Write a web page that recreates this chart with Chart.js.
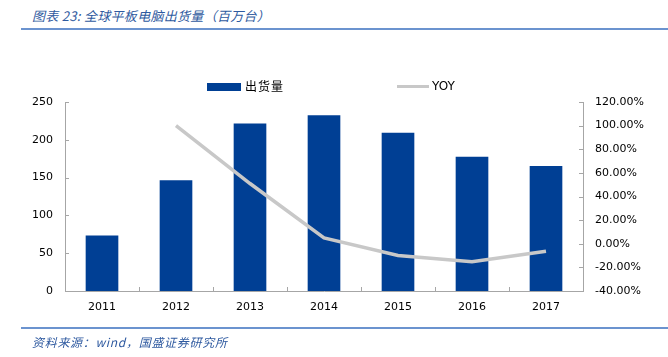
<!DOCTYPE html>
<html>
<head>
<meta charset="utf-8">
<script src="https://cdn.jsdelivr.net/npm/chart.js@4/dist/chart.umd.min.js"></script>
<style>
  html, body { margin: 0; padding: 0; background: #fff; }
  #wrap { position: relative; width: 668px; height: 357px; overflow: hidden; }
  #c { position: absolute; left: 0; top: 0; }
  .title { position: absolute; left: 32px; top: 6px; font: italic 13px "Noto Sans CJK SC", sans-serif; color: #2f5aa0; white-space: nowrap; letter-spacing: 0.3px; }
  .rule { position: absolute; left: 21px; width: 647px; height: 2px; background: #6b93cf; }
  .source { position: absolute; left: 32px; top: 333px; font: italic 12px "Noto Sans CJK SC", sans-serif; color: #2f5aa0; white-space: nowrap; letter-spacing: 0.7px; }
  .leg { position: absolute; top: 78px; font: 12px "Noto Sans CJK SC", "DejaVu Sans", sans-serif; color: #000; white-space: nowrap; line-height: 16px; }
  .box { position: absolute; }
</style>
</head>
<body>
<div id="wrap">
  <div class="title">图表 23:  全球平板电脑出货量（百万台）</div>
  <div class="rule" style="top:28px"></div>
  <canvas id="c" width="668" height="357"></canvas>
  <div class="box" style="left:207px; top:83px; width:34px; height:8px; background:#003f94;"></div>
  <div class="leg" style="left:245px; letter-spacing:1px;">出货量</div>
  <div class="box" style="left:397px; top:85px; width:32px; height:3px; background:#c8c8c8;"></div>
  <div class="leg" style="left:432px; font-family:'DejaVu Sans', sans-serif;">YOY</div>
  <div class="rule" style="top:327px"></div>
  <div class="source">资料来源：wind，国盛证券研究所</div>
</div>
<script>
const categories = ['2011', '2012', '2013', '2014', '2015', '2016', '2017'];
const shipments = [73, 146, 221, 232, 209, 177, 165];
const yoy = [null, 100, 51, 5, -10, -15.2, -6.3];
const leftTicks = [0, 50, 100, 150, 200, 250];
const rightTicks = [-40, -20, 0, 20, 40, 60, 80, 100, 120];

const axisColor = '#a6a6a6';
const tickFont = { family: 'DejaVu Sans', size: 11 };

const inwardTicks = {
  id: 'inwardTicks',
  afterDraw(chart) {
    const ctx = chart.ctx;
    const a = chart.chartArea;
    const x = chart.scales.x, yl = chart.scales.y, yr = chart.scales.y1;
    ctx.save();
    ctx.strokeStyle = axisColor;
    ctx.lineWidth = 1;
    ctx.beginPath();
    leftTicks.forEach(v => { const p = Math.round(yl.getPixelForValue(v)) + 0.5; ctx.moveTo(a.left, p); ctx.lineTo(a.left + 4, p); });
    rightTicks.forEach(v => { const p = Math.round(yr.getPixelForValue(v)) + 0.5; ctx.moveTo(a.right, p); ctx.lineTo(a.right - 4, p); });
    for (let i = 0; i <= categories.length; i++) {
      let p;
      if (i === 0) p = a.left; else if (i === categories.length) p = a.right;
      else p = (x.getPixelForValue(i - 1) + x.getPixelForValue(i)) / 2;
      p = Math.round(p) + 0.5;
      ctx.moveTo(p, a.bottom); ctx.lineTo(p, a.bottom - 4);
    }
    ctx.stroke();
    ctx.restore();
  }
};

new Chart(document.getElementById('c'), {
  data: {
    labels: categories,
    datasets: [
      {
        type: 'line', label: 'YOY', data: yoy, yAxisID: 'y1',
        borderColor: '#c8c8c8', borderWidth: 3.5, pointRadius: 0, tension: 0,
        fill: false, order: 0
      },
      {
        type: 'bar', label: '出货量', data: shipments, yAxisID: 'y',
        backgroundColor: '#003f94', borderWidth: 0,
        barThickness: 32, order: 1
      }
    ]
  },
  options: {
    responsive: false,
    animation: false,
    devicePixelRatio: 1,
    layout: { padding: { top: 102, bottom: 36, left: 0, right: 0 } },
    plugins: { legend: { display: false }, tooltip: { enabled: false }, title: { display: false } },
    scales: {
      x: {
        offset: true,
        grid: { display: false, drawTicks: false },
        border: { display: true, color: axisColor, width: 1 },
        ticks: { color: '#000', font: tickFont, padding: 10, maxRotation: 0 },
        afterFit(s) { s.height = 30; }
      },
      y: {
        position: 'left', min: 0, max: 250,
        grid: { display: false, drawTicks: false },
        border: { display: true, color: axisColor, width: 1 },
        ticks: { stepSize: 50, color: '#000', font: tickFont, padding: 12 },
        afterBuildTicks(s) { s.ticks = leftTicks.map(v => ({ value: v })); },
        afterFit(s) { s.width = 65; }
      },
      y1: {
        position: 'right', min: -40, max: 120,
        grid: { display: false, drawTicks: false },
        border: { display: true, color: axisColor, width: 1 },
        ticks: { stepSize: 20, color: '#000', font: tickFont, padding: 12,
          callback: v => Number(v).toFixed(2) + '%' },
        afterBuildTicks(s) { s.ticks = rightTicks.map(v => ({ value: v })); },
        afterFit(s) { s.width = 85; }
      }
    }
  },
  plugins: [inwardTicks]
});
</script>
</body>
</html>
